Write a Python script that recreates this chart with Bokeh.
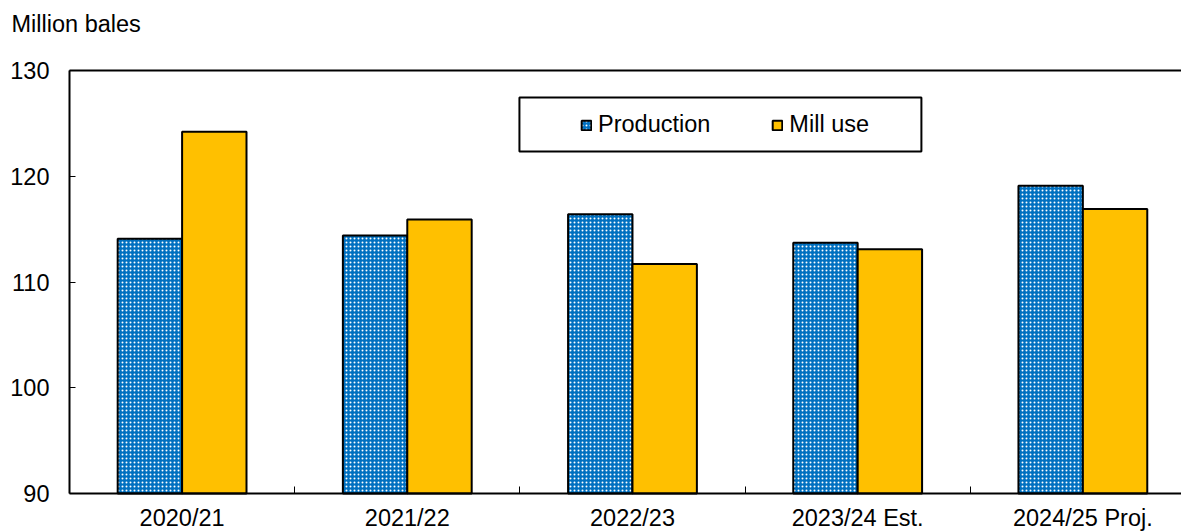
import numpy as np
from bokeh.plotting import figure
from bokeh.models import (ColumnDataSource, FixedTicker, LinearAxis, Range1d,
                          Legend, LegendItem, BoxAnnotation, Label)
from bokeh.embed import file_html
from bokeh.resources import INLINE

categories = ["2020/21", "2021/22", "2022/23", "2023/24 Est.", "2024/25 Proj."]
production = [114.1, 114.4, 116.4, 113.7, 119.1]
mill_use = [124.2, 115.9, 111.7, 113.1, 116.9]
y_ticks = [90, 100, 110, 120, 130]

FONT = "Liberation Sans"
FS = "23.5px"
BLUE = "#0070C0"
GOLD = "#FFC000"

n = len(categories)
centers = np.arange(n) + 0.5
bw = 0.286
y_lo, y_hi = y_ticks[0], y_ticks[-1]

src = ColumnDataSource(dict(
    xp=centers - bw / 2, xm=centers + bw / 2,
    prod=production, mill=mill_use))

# the frame covers the whole canvas; axes sit at fixed data positions
p = figure(width=1181, height=531, output_backend="svg", toolbar_location=None,
           x_range=Range1d(-0.3064, 4.938), y_range=Range1d(86.407, 136.619),
           min_border=0, outline_line_color=None,
           background_fill_color="white", border_fill_color="white")
p.grid.visible = False

r_prod = p.vbar(x="xp", top="prod", bottom=y_lo, width=bw, source=src,
                fill_color=BLUE, line_color="black", line_width=2,
                hatch_pattern="dot", hatch_color="white",
                hatch_scale=4, hatch_weight=2.5)
r_mill = p.vbar(x="xm", top="mill", bottom=y_lo, width=bw, source=src,
                fill_color=GOLD, line_color="black", line_width=2)

# x axis
xa = p.xaxis[0]
xa.fixed_location = y_lo
xa.bounds = (0, n)
xa.ticker = FixedTicker(ticks=list(centers), minor_ticks=list(np.arange(1, n)))
xa.major_label_overrides = {float(c): lab for c, lab in zip(centers, categories)}
xa.major_tick_in = 0
xa.major_tick_out = 0
xa.minor_tick_in = 7
xa.minor_tick_out = 0
xa.minor_tick_line_color = "black"
xa.minor_tick_line_width = 1
xa.axis_line_width = 2
xa.axis_line_color = "black"
xa.major_label_text_font = FONT
xa.major_label_text_font_size = FS
xa.major_label_text_color = "black"
xa.major_label_standoff = 11

# y axis
ya = p.yaxis[0]
ya.fixed_location = 0
ya.bounds = (y_lo, y_hi)
ya.ticker = FixedTicker(ticks=y_ticks)
ya.major_tick_in = 6
ya.major_tick_out = 0
ya.minor_tick_in = 0
ya.minor_tick_out = 0
ya.axis_line_width = 2
ya.axis_line_color = "black"
ya.major_label_text_font = FONT
ya.major_label_text_font_size = FS
ya.major_label_text_color = "black"
ya.major_label_standoff = 20

# top border line
top = LinearAxis(ticker=FixedTicker(ticks=[]), fixed_location=y_hi, bounds=(0, n),
                 major_tick_in=0, major_tick_out=0, minor_tick_in=0,
                 minor_tick_out=0, axis_line_width=2, axis_line_color="black",
                 major_label_text_font_size="0px", major_label_standoff=0)
p.add_layout(top, "above")

# unit title
p.add_layout(Label(x=11, y=508, x_units="screen", y_units="screen",
                   text="Million bales", text_font=FONT, text_font_size=FS,
                   text_color="black", text_baseline="alphabetic",
                   text_align="left"))

# legend box
p.add_layout(BoxAnnotation(left=1.998, right=3.783, top=127.45, bottom=122.34,
                           fill_color=None, fill_alpha=0, line_color="black",
                           line_alpha=1, line_width=2, level="overlay"))

legend = Legend(items=[LegendItem(label="Production", renderers=[r_prod]),
                       LegendItem(label="Mill use", renderers=[r_mill])],
                orientation="horizontal", location=(580, 393),
                padding=0, margin=0, spacing=61, border_line_color=None,
                background_fill_alpha=0, glyph_width=12, glyph_height=12,
                label_standoff=6, label_height=24,
                label_text_font=FONT, label_text_font_size=FS,
                label_text_color="black")
p.add_layout(legend, "center")

open("out.html", "w").write(file_html(p, INLINE))
